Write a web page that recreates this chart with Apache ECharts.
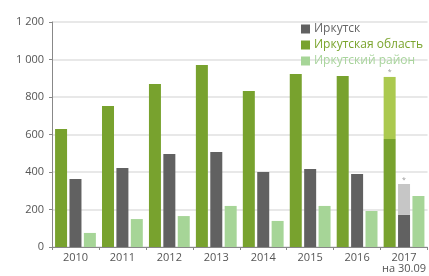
<!DOCTYPE html>
<html>
<head>
<meta charset="utf-8">
<script src="https://cdn.jsdelivr.net/npm/echarts@6/dist/echarts.min.js"></script>
<style>
  html, body { margin: 0; padding: 0; background: #fff; }
  #chart { width: 429px; height: 276px; }
</style>
</head>
<body>
<div id="chart"></div>
<script>
// годы
const years = ['2010', '2011', '2012', '2013', '2014', '2015', '2016', '2017\nна 30.09']
// Иркутская область
const oblast = [629, 752, 869, 971, 832, 923, 912, 576]
const oblastExtra = [null, null, null, null, null, null, null, 331]
// Иркутск
const irkutsk = [363, 421, 496, 507, 400, 416, 389, 171]
const irkutskExtra = [null, null, null, null, null, null, null, 165]
// Иркутский район
const rayon = [75, 149, 165, 219, 139, 219, 192, 272]

const chart = echarts.init(document.getElementById('chart'))
const option = {
  animation: false,
  textStyle: { fontFamily: 'Open Sans' },
  grid: { left: 52, right: 1, top: 22, bottom: 29 },
  legend: {
    orient: 'vertical',
    left: 296,
    top: 18,
    itemWidth: 9,
    itemHeight: 9,
    itemGap: 4,
    icon: 'rect',
    data: [
      { name: 'Иркутск', textStyle: { color: '#666' } },
      { name: 'Иркутская область', textStyle: { color: '#7aa42c' } },
      { name: 'Иркутский район', textStyle: { color: '#a8d49c' } }
    ],
    textStyle: { fontSize: 12, padding: [0, 0, 0, -1] }
  },
  xAxis: {
    type: 'category',
    data: years,
    axisLine: { lineStyle: { color: '#888' } },
    axisTick: { show: true, length: 3, lineStyle: { color: '#888' } },
    axisLabel: { interval: 0, color: '#555', fontSize: 11, margin: 5, lineHeight: 11 }
  },
  yAxis: {
    type: 'value',
    min: 0,
    max: 1200,
    interval: 200,
    axisLine: { show: true, lineStyle: { color: '#888' } },
    axisTick: { show: true, length: 3, lineStyle: { color: '#888' } },
    splitLine: { lineStyle: { color: '#e8e8e8', width: 2 } },
    axisLabel: {
      color: '#555',
      fontSize: 11,
      margin: 8,
      formatter: v => String(v).replace(/\B(?=(\d{3})+(?!\d))/g, ' ')
    }
  },
  series: [
    {
      name: 'Иркутская область', type: 'bar', stack: 'obl', data: oblast,
      barWidth: 12, barGap: '20%',
      itemStyle: { color: '#78a22e' }
    },
    {
      name: 'Иркутская область 2', type: 'bar', stack: 'obl', data: oblastExtra,
      barWidth: 12, barGap: '20%',
      itemStyle: { color: '#abc94f' },
      label: { show: true, position: 'top', formatter: '*', fontSize: 7, color: '#999', distance: 1 }
    },
    {
      name: 'Иркутск', type: 'bar', stack: 'irk', data: irkutsk,
      barWidth: 12, barGap: '20%',
      itemStyle: { color: '#616161' }
    },
    {
      name: 'Иркутск 2', type: 'bar', stack: 'irk', data: irkutskExtra,
      barWidth: 12, barGap: '20%',
      itemStyle: { color: '#c6c6c6' },
      label: { show: true, position: 'top', formatter: '*', fontSize: 7, color: '#999', distance: 1 }
    },
    {
      name: 'Иркутский район', type: 'bar', data: rayon,
      barWidth: 12, barGap: '20%',
      itemStyle: { color: '#a6d597' }
    }
  ]
}
chart.setOption(option)
</script>
</body>
</html>
